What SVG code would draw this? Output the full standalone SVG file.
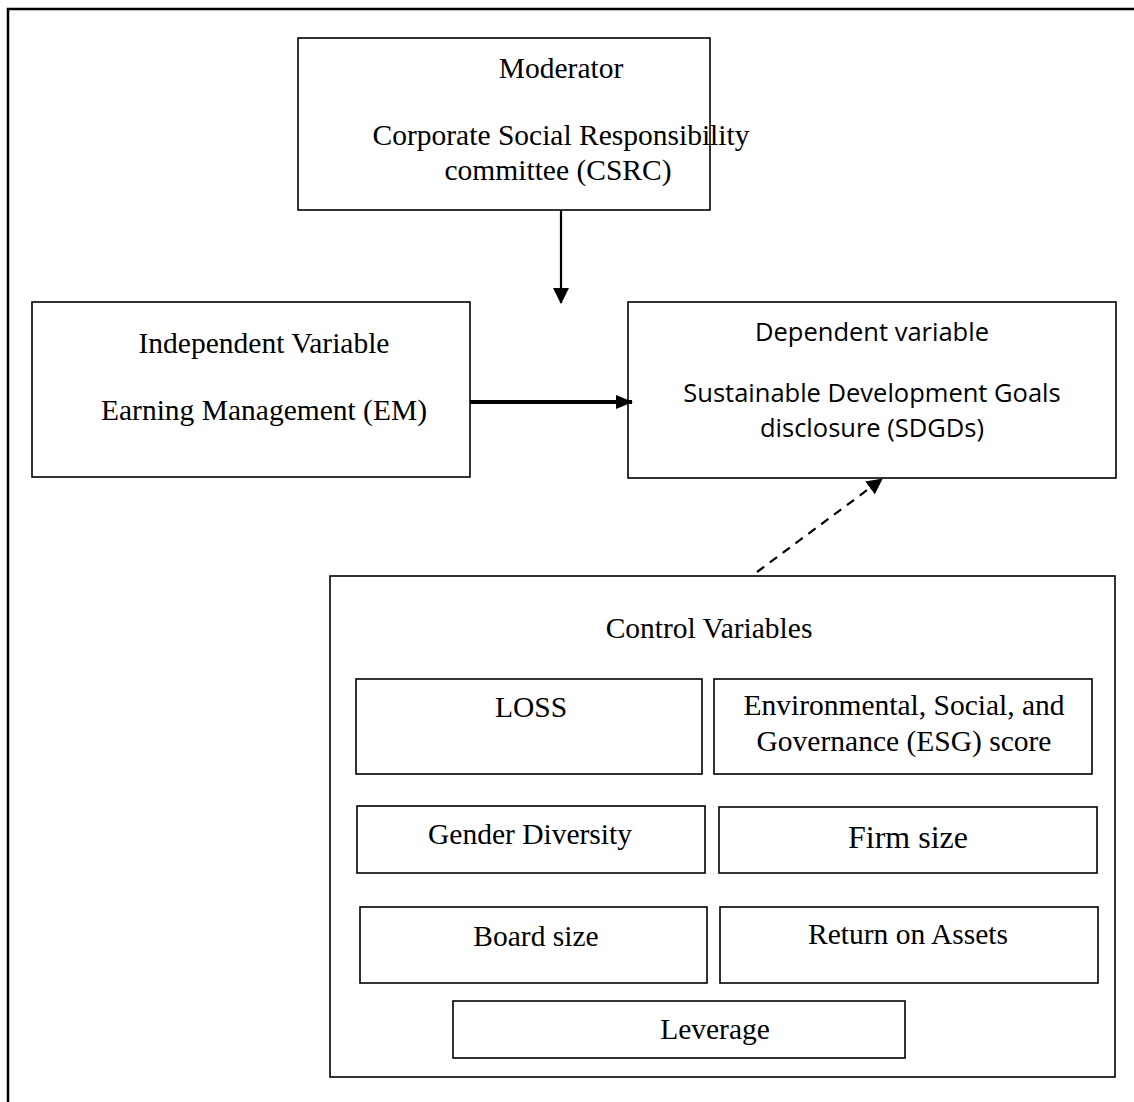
<svg xmlns="http://www.w3.org/2000/svg" width="1134" height="1102" viewBox="0 0 1134 1102">
<style>
.box{fill:#fff;stroke:#000;stroke-width:1.6}
.t{font-family:"Liberation Serif","Times New Roman",serif;font-size:29.5px;fill:#000;text-anchor:middle}
.s{font-family:"Open Sans","Lato","Liberation Sans",sans-serif;font-size:25.5px;fill:#000;text-anchor:middle}
</style>
<defs>
<marker id="ah" markerWidth="17" markerHeight="14" refX="16" refY="7" orient="auto" markerUnits="userSpaceOnUse"><path d="M0,0 L17,7 L0,14 Z" fill="#000"/></marker>
<marker id="ah2" markerWidth="16" markerHeight="16" refX="15" refY="8" orient="auto" markerUnits="userSpaceOnUse"><path d="M0,0 L16,8 L0,16 Z" fill="#000"/></marker>
</defs>
<rect width="1134" height="1102" fill="#fff"/>
<rect x="8" y="9" width="1140" height="1110" fill="none" stroke="#000" stroke-width="2.5"/>

<g id="moderator">
<rect class="box" x="298" y="38" width="412" height="172"/>
<text class="t" x="561" y="78">Moderator</text>
<text class="t" x="561" y="145">Corporate Social Responsibility</text>
<text class="t" x="558" y="180">committee (CSRC)</text>
</g>
<g id="independent">
<rect class="box" x="32" y="302" width="438" height="175"/>
<text class="t" x="264" y="353">Independent Variable</text>
<text class="t" x="264" y="420">Earning Management (EM)</text>
</g>
<g id="dependent">
<rect class="box" x="628" y="302" width="488" height="176"/>
<text class="s" x="872" y="341">Dependent variable</text>
<text class="s" x="872" y="402">Sustainable Development Goals</text>
<text class="s" x="872" y="437">disclosure (SDGDs)</text>
</g>
<g id="controls">
<rect class="box" x="330" y="576" width="785" height="501"/>
<text class="t" x="709" y="638" fill="#333">Control Variables</text>
</g>
<g id="loss"><rect class="box" x="356" y="679" width="346" height="95"/><text class="t" x="531" y="717">LOSS</text></g>
<g id="esg"><rect class="box" x="714" y="679" width="378" height="95"/><text class="t" x="904" y="715">Environmental, Social, and</text><text class="t" x="904" y="751">Governance (ESG) score</text></g>
<g id="gender"><rect class="box" x="357" y="806" width="348" height="67"/><text class="t" x="530" y="844">Gender Diversity</text></g>
<g id="firm"><rect class="box" x="719" y="807" width="378" height="66"/><text class="t" x="908" y="848" style="font-size:32px">Firm size</text></g>
<g id="board"><rect class="box" x="360" y="907" width="347" height="76"/><text class="t" x="536" y="946">Board size</text></g>
<g id="roa"><rect class="box" x="720" y="907" width="378" height="76"/><text class="t" x="908" y="944">Return on Assets</text></g>
<g id="leverage"><rect class="box" x="453" y="1001" width="452" height="57"/><text class="t" x="715" y="1039">Leverage</text></g>

<g id="connectors" stroke="#000" fill="none">
<line x1="561" y1="210" x2="561" y2="303" stroke-width="2.2" marker-end="url(#ah2)"/>
<line x1="470" y1="402" x2="632" y2="402" stroke-width="4" marker-end="url(#ah)"/>
<line x1="757" y1="572" x2="882" y2="479" stroke-width="2.2" stroke-dasharray="9,7" marker-end="url(#ah2)"/>
</g>
</svg>
